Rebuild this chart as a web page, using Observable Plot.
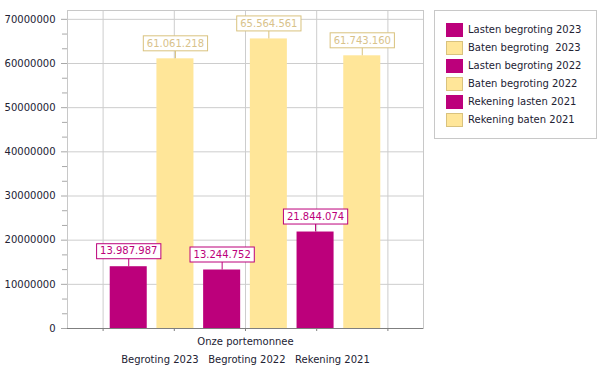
<!DOCTYPE html>
<html>
<head>
<meta charset="utf-8">
<script src="https://cdn.jsdelivr.net/npm/d3@7"></script>
<script src="https://cdn.jsdelivr.net/npm/@observablehq/plot@0.6"></script>
<style>
  html, body { margin: 0; padding: 0; background: #fff; }
  #wrap { position: relative; width: 602px; height: 374px; font-family: "DejaVu Sans", sans-serif; }
  #legend { position: absolute; left: 434px; top: 10px; width: 163px; height: 129px; box-sizing: border-box;
            border: 1px solid #c8c8c8; background: #fff; }
  .item { position: absolute; left: 11px; height: 14px; display: flex; align-items: center; }
  .sw { width: 17px; height: 14px; box-sizing: border-box; margin-right: 5px; flex: none; }
  .lbl { font-size: 10px; color: #222233; white-space: pre; line-height: 14px; }
</style>
</head>
<body>
<div id="wrap"><div id="chart"></div><div id="legend"></div></div>
<script>
// ---- data ----
const series = ["Lasten begroting 2023", "Baten begroting  2023", "Lasten begroting 2022",
                "Baten begroting 2022", "Rekening lasten 2021", "Rekening baten 2021"];
const kinds = ["lasten", "baten", "lasten", "baten", "lasten", "baten"];
const values = [13987987, 61061218, 13244752, 65564561, 21844074, 61743160];
const category = ["Onze portemonnee"];
const groups = ["Begroting 2023", "Begroting 2022", "Rekening 2021"];
const yMajorTicks = [0, 10000000, 20000000, 30000000, 40000000, 50000000, 60000000, 70000000];

// ---- style / layout ----
const W = 602, H = 374, MT = 10, MB = 46, ML = 67, MR = 179;
const Y_MAX = 72000000;
const STEP = 0.1312, BAR = 0.104;          // bar slot and width as fraction of the category
const LEAD_PX = 8, BOX_H = 15;
const fillColor = {lasten: "#BC007B", baten: "#FFE699"};
const lineColor = {lasten: "#BC007B", baten: "#D9C27E"};
const textColor = {lasten: "#BC007B", baten: "#D8C28A"};
const legendBorder = {lasten: "#BC007B", baten: "#D9C27E"};

const yMinorTicks = [];
for (let i = 0; i < yMajorTicks.length - 1; i++) {
  const a = yMajorTicks[i], b = yMajorTicks[i + 1];
  yMinorTicks.push(a + (b - a) / 3, a + 2 * (b - a) / 3);
}
const xGridTicks = [0.1, 0.3, 0.5, 0.7, 0.9];
const LEAD = LEAD_PX * Y_MAX / (H - MT - MB);

const data = series.map((s, i) => {
  const c = 0.5 + (i - 2.5) * STEP;
  return {series: s, kind: kinds[i], value: values[i], x1: c - BAR / 2, x2: c + BAR / 2, xc: c};
});

const nl = d3.formatLocale({decimal: ",", thousands: ".", grouping: [3], currency: ["", ""]});
const fmt = nl.format(",");

const svg = Plot.plot({
  width: W, height: H,
  marginTop: MT, marginBottom: MB, marginLeft: ML, marginRight: MR,
  style: {fontFamily: "DejaVu Sans, sans-serif", fontSize: "10px", background: "#fff", color: "#222233"},
  x: {domain: [0, 1], axis: null},
  y: {domain: [0, Y_MAX], axis: null},
  color: {type: "identity"},
  marks: [
    Plot.gridY(yMajorTicks, {stroke: "#cdcdcd", strokeOpacity: 1}),
    Plot.gridX(xGridTicks, {stroke: "#cdcdcd", strokeOpacity: 1}),
    Plot.frame({stroke: "#c8c8c8"}),
    Plot.rectY(data, {x1: "x1", x2: "x2", y: "value", fill: d => fillColor[d.kind]}),
    Plot.ruleY([0], {stroke: "#7f7f7f"}),
    Plot.axisY({ticks: yMajorTicks, tickSize: 6, tickPadding: 6, tickFormat: d3.format("d"),
                stroke: "#a8a8a8", fill: "#222233", label: null}),
    Plot.axisY({ticks: yMinorTicks, tickSize: 5, tickFormat: () => "", stroke: "#a8a8a8", label: null}),
    Plot.axisX({ticks: xGridTicks, tickSize: 3, tickFormat: () => "", stroke: "#7f7f7f", label: null}),
    Plot.ruleX(data, {x: "xc", y1: "value", y2: d => d.value + LEAD, stroke: d => lineColor[d.kind]}),
    Plot.text(data, {x: "xc", y: "value", text: d => fmt(d.value), dy: -(LEAD_PX + BOX_H / 2),
                     fill: d => textColor[d.kind]}),
    Plot.text(category, {frameAnchor: "bottom", text: d => d, dy: 16, fill: "#222233"}),
    Plot.text([groups.join("   ")], {frameAnchor: "bottom", text: d => d, dy: 34, fill: "#222233"})
  ]
});

document.getElementById("chart").appendChild(svg);

// boxes behind value labels
const labelKind = new Map(data.map(d => [fmt(d.value), d.kind]));
d3.select(svg).selectAll("text").each(function() {
  const t = this;
  const kind = labelKind.get(t.textContent);
  if (!kind) return;
  const bb = t.getBBox();
  const y = +t.getAttribute("y") || 0;
  const x = +t.getAttribute("x") || 0;
  const r = document.createElementNS("http://www.w3.org/2000/svg", "rect");
  r.setAttribute("x", bb.x - 3.5);
  r.setAttribute("y", y - BOX_H / 2);
  r.setAttribute("width", bb.width + 7);
  r.setAttribute("height", BOX_H);
  r.setAttribute("fill", "#fff");
  r.setAttribute("stroke", lineColor[kind]);
  const tr = t.getAttribute("transform");
  if (tr) r.setAttribute("transform", tr);
  t.parentNode.insertBefore(r, t);
});

// legend
const legend = document.getElementById("legend");
series.forEach((s, i) => {
  const it = document.createElement("div");
  it.className = "item";
  it.style.top = (12 + i * 18) + "px";
  const sw = document.createElement("div");
  sw.className = "sw";
  sw.style.background = fillColor[kinds[i]];
  sw.style.border = "1px solid " + legendBorder[kinds[i]];
  const lb = document.createElement("span");
  lb.className = "lbl";
  lb.textContent = s;
  it.appendChild(sw); it.appendChild(lb);
  legend.appendChild(it);
});
</script>
</body>
</html>
